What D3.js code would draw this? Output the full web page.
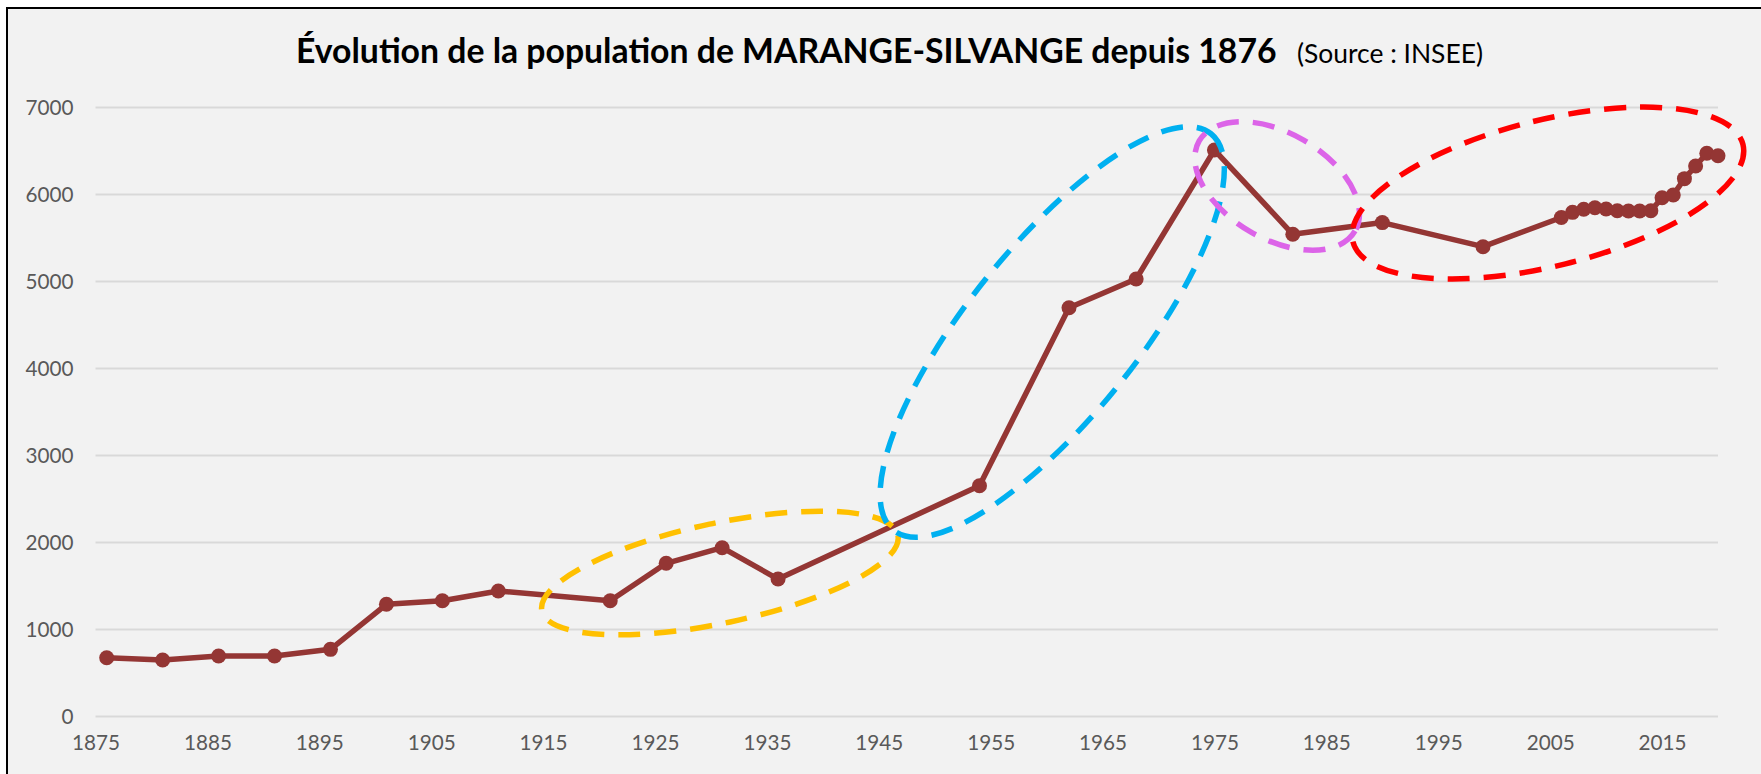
<!DOCTYPE html>
<html>
<head>
<meta charset="utf-8">
<script src="https://cdn.jsdelivr.net/npm/d3@7"></script>
<style>
body { margin: 0; background: #fff; }
svg { display: block; }
text { font-family: Lato, 'Open Sans', sans-serif; }
</style>
</head>
<body>
<div class="chart"></div>
<script>
// census years and population (INSEE)
const years = [1876, 1881, 1886, 1891, 1896, 1901, 1906, 1911, 1921, 1926, 1931, 1936,
	1954, 1962, 1968, 1975, 1982, 1990, 1999, 2006, 2007, 2008, 2009, 2010, 2011,
	2012, 2013, 2014, 2015, 2016, 2017, 2018, 2019, 2020];
const population = [676, 649, 695, 695, 772, 1290, 1331, 1443, 1331, 1761, 1940, 1580,
	2653, 4699, 5029, 6511, 5543, 5677, 5400, 5736, 5795, 5830, 5848, 5833, 5814,
	5810, 5810, 5814, 5963, 5994, 6182, 6328, 6474, 6446];

const xTicks = [1875, 1885, 1895, 1905, 1915, 1925, 1935, 1945, 1955, 1965, 1975, 1985, 1995, 2005, 2015];
const yTicks = [0, 1000, 2000, 3000, 4000, 5000, 6000, 7000];

const titleText = 'Évolution de la population de MARANGE-SILVANGE depuis 1876';
const sourceText = '(Source : INSEE)';

// dashed ellipses drawn over the chart (centre in year / inhabitants)
const zoneColors = ['#ffc000', '#00b0f0', '#dc64e8', '#ff0000'];
const zoneYears = [1930.8, 1960.5, 1980.6, 2004.8];
const zoneValues = [1649, 4420, 6098, 6017];
const zoneRx = [182, 254, 90, 201];
const zoneRy = [50, 85, 53, 73];
const zoneAngle = [-12, -51.3, 30, -14];

const width = 1761;
const height = 774;

const svg = d3.select('.chart')
	.append('svg')
	.attr('width', width)
	.attr('height', height);

// chart frame
svg.append('rect')
	.attr('x', 7)
	.attr('y', 8)
	.attr('width', width + 20)
	.attr('height', height + 20)
	.attr('fill', '#f2f2f2')
	.attr('stroke', '#000')
	.attr('stroke-width', 2);

const x = d3.scaleLinear().domain([1875, 2020]).range([95.5, 1718]);
const y = d3.scaleLinear().domain([0, 7000]).range([716.5, 107.5]);

// horizontal grid
svg.append('g')
	.selectAll('line')
	.data(yTicks)
	.join('line')
	.attr('x1', x(1875))
	.attr('x2', x(2020))
	.attr('y1', d => y(d))
	.attr('y2', d => y(d))
	.attr('stroke', '#d9d9d9')
	.attr('stroke-width', 2);

// y axis labels
const yAxis = svg.append('g')
	.attr('transform', 'translate(' + (x(1875) - 22) + ',0)')
	.call(d3.axisLeft(y).tickValues(yTicks).tickSize(0).tickPadding(0).tickFormat(d3.format('d')));
yAxis.select('.domain').remove();
yAxis.selectAll('text')
	.style('font-family', 'Lato, sans-serif')
	.style('font-size', '20.7px')
	.attr('fill', '#595959');

// x axis labels
const xAxis = svg.append('g')
	.attr('transform', 'translate(0,' + (y(0) + 19) + ')')
	.call(d3.axisBottom(x).tickValues(xTicks).tickSize(0).tickPadding(0).tickFormat(d3.format('d')));
xAxis.select('.domain').remove();
xAxis.selectAll('text')
	.style('font-family', 'Lato, sans-serif')
	.style('font-size', '20.7px')
	.attr('fill', '#595959');

// population line
const line = d3.line()
	.x((d, i) => x(years[i]))
	.y(d => y(d));

svg.append('path')
	.datum(population)
	.attr('d', line)
	.attr('fill', 'none')
	.attr('stroke', '#943634')
	.attr('stroke-width', 5.5)
	.attr('stroke-linejoin', 'round');

svg.append('g')
	.selectAll('circle')
	.data(population)
	.join('circle')
	.attr('cx', (d, i) => x(years[i]))
	.attr('cy', d => y(d))
	.attr('r', 7.5)
	.attr('fill', '#943634');

// highlight ellipses
svg.append('g')
	.selectAll('ellipse')
	.data(zoneColors)
	.join('ellipse')
	.attr('cx', (d, i) => x(zoneYears[i]))
	.attr('cy', (d, i) => y(zoneValues[i]))
	.attr('rx', (d, i) => zoneRx[i])
	.attr('ry', (d, i) => zoneRy[i])
	.attr('transform', (d, i) => 'rotate(' + zoneAngle[i] + ',' + x(zoneYears[i]) + ',' + y(zoneValues[i]) + ')')
	.attr('fill', 'none')
	.attr('stroke', d => d)
	.attr('stroke-width', 5.5)
	.attr('stroke-dasharray', '22,14');

// title, fitted to the original width
const title = svg.append('text')
	.attr('x', 296)
	.attr('y', 63)
	.style('font-weight', 'bold')
	.style('font-size', '30px')
	.attr('fill', '#000')
	.text(titleText);
let tw = title.node().getComputedTextLength();
title.style('font-size', (30 * 981 / tw) + 'px');

const source = svg.append('text')
	.attr('x', 1297)
	.attr('y', 63)
	.style('font-size', '24px')
	.attr('fill', '#000')
	.text(sourceText);
let sw = source.node().getComputedTextLength();
source.style('font-size', (24 * 186 / sw) + 'px');
</script>
</body>
</html>
